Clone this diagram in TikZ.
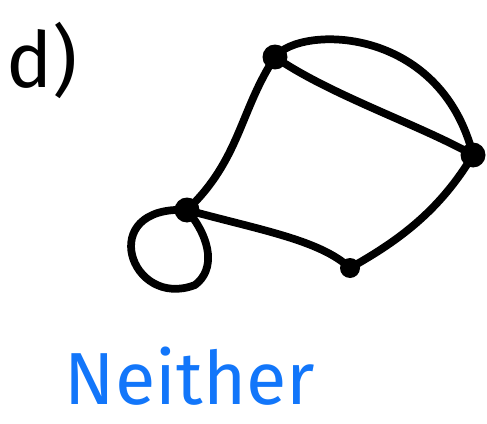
\documentclass[tikz,border=0pt]{standalone}
\usepackage{fontspec}
\setmainfont{Fira Sans}
\usetikzlibrary{positioning, calc}

\definecolor{handblue}{RGB}{18,118,250}

\begin{document}
\begin{tikzpicture}[
    x=0.02cm, y=-0.02cm,
    vertex/.style={circle, fill=black, inner sep=0pt, minimum size=0.5cm},
    smallvertex/.style={circle, fill=black, inner sep=0pt, minimum size=0.4cm},
    edgeline/.style={draw, line width=4.4pt, line cap=round, line join=round}
]
\useasboundingbox (0,0) rectangle (487,423);

\node [vertex] (top) at (275,57) {};
\node [vertex] (right) at (473,155) {};
\node [vertex] (left) at (187,210) {};
\node [smallvertex] (bottom) at (350,268) {};

\node [font=\fontsize{44}{48}\selectfont, inner sep=0pt] (part) at (42,60) {d)};
\node [font=\fontsize{42}{46}\selectfont, text=handblue, inner sep=0pt] (answer) at (190,376) {Neither};

\path [edgeline] (top.center) .. controls (300,25) and (440,25) .. (right.center);
\path [edgeline] (top.center) .. controls (330,95) and (420,125) .. (right.center);
\path [edgeline] (top.center) .. controls (240,110) and (240,160) .. (left.center);
\path [edgeline] (left.center) .. controls (260,230) and (320,240) .. (bottom.center);
\path [edgeline] (bottom.center) .. controls (400,240) and (440,210) .. (right.center);
\path [edgeline] (left.center) .. controls (95,205) and (130,310) .. (195,285)
    .. controls (215,270) and (212,240) .. (left.center);
\end{tikzpicture}
\end{document}
